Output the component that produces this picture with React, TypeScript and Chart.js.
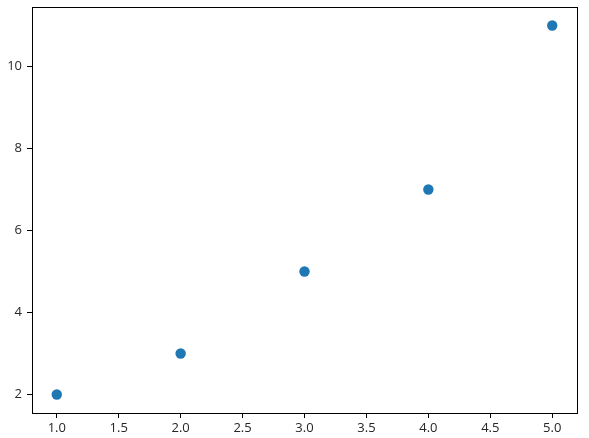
import React, { useEffect, useRef } from "react";
import { Chart, registerables } from "chart.js";

Chart.register(...registerables);

const xValues = [1, 2, 3, 4, 5];
const yValues = [2, 3, 5, 7, 11];
const xTicks = [1.0, 1.5, 2.0, 2.5, 3.0, 3.5, 4.0, 4.5, 5.0];
const yTicks = [2, 4, 6, 8, 10];

const frame = {
  id: "frame",
  afterDraw(chart: any) {
    const { ctx, chartArea: a } = chart;
    ctx.save();
    ctx.strokeStyle = "#000";
    ctx.lineWidth = 1;
    ctx.strokeRect(Math.round(a.left) + 0.5, Math.round(a.top) + 0.5, Math.round(a.right - a.left), Math.round(a.bottom - a.top));
    ctx.restore();
  },
};

export default function App() {
  const ref = useRef<HTMLCanvasElement>(null);
  useEffect(() => {
    const font = { family: "'Open Sans', 'Noto Sans', sans-serif", size: 13 };
    const chart = new Chart(ref.current!, {
      type: "scatter",
      data: {
        datasets: [
          {
            data: xValues.map((x, i) => ({ x, y: yValues[i] })),
            backgroundColor: "#1f77b4",
            borderColor: "#1f77b4",
            pointRadius: 5.2,
            pointHoverRadius: 5.2,
            borderWidth: 0,
          },
        ],
      },
      options: {
        responsive: false,
        animation: false,
        events: [],
        layout: { padding: { top: 7, right: 12, left: 0, bottom: 0 } },
        plugins: { legend: { display: false }, tooltip: { enabled: false } },
        scales: {
          x: {
            type: "linear",
            min: 0.8,
            max: 5.2,
            afterBuildTicks: (s: any) => {
              s.ticks = xTicks.map((v) => ({ value: v }));
            },
            afterFit: (s: any) => {
              s.height = 25;
              s.paddingLeft = 0;
              s.paddingRight = 0;
            },
            ticks: {
              color: "#262626",
              font,
              padding: 2,
              maxRotation: 0,
              autoSkip: false,
              callback: (v: any) => Number(v).toFixed(1),
            },
            grid: { drawOnChartArea: false, drawTicks: true, tickLength: 5, color: "#000" },
            border: { display: false },
          },
          y: {
            type: "linear",
            min: 1.55,
            max: 11.45,
            afterBuildTicks: (s: any) => {
              s.ticks = yTicks.map((v) => ({ value: v }));
            },
            afterFit: (s: any) => {
              s.width = 32;
              s.paddingTop = 0;
              s.paddingBottom = 0;
            },
            ticks: {
              color: "#262626",
              font,
              padding: 5,
              autoSkip: false,
              callback: (v: any) => String(v),
            },
            grid: { drawOnChartArea: false, drawTicks: true, tickLength: 5, color: "#000" },
            border: { display: false },
          },
        },
      },
      plugins: [frame],
    } as any);
    return () => chart.destroy();
  }, []);
  return (
    <div style={{ position: "fixed", left: 0, top: 0, width: 589, height: 438, background: "#fff" }}>
      <canvas ref={ref} width={589} height={438} />
    </div>
  );
}
